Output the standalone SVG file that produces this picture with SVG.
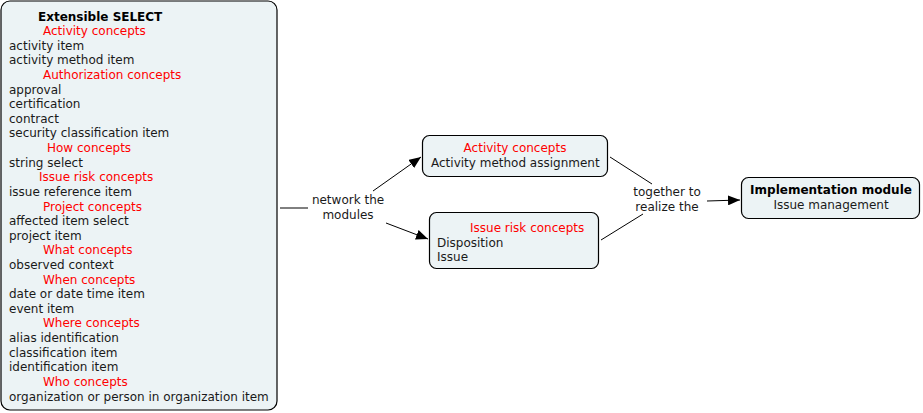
<svg xmlns="http://www.w3.org/2000/svg" width="923" height="413" viewBox="0 0 923 413">
<defs>
<style>
.box{fill:#ecf3f5;stroke:#000;stroke-width:1.2}
text{font-family:"DejaVu Sans",Verdana,sans-serif;font-size:12px;fill:#1a1a1a}
.r{fill:#ff0000}
.b{font-weight:bold;fill:#000}
.c{text-anchor:middle}
.ln{stroke:#000;stroke-width:1;fill:none}
</style>
<marker id="ah" viewBox="0 0 12 10" refX="12" refY="5" markerWidth="12" markerHeight="10" markerUnits="userSpaceOnUse" orient="auto">
<path d="M0,0 L12,5 L0,10 Z" fill="#000"/>
</marker>
</defs>
<g id="connectors">
<line class="ln" x1="280" y1="208" x2="308" y2="208"/>
<line class="ln" x1="373" y1="191" x2="421" y2="157" marker-end="url(#ah)"/>
<line class="ln" x1="386" y1="223" x2="428" y2="239" marker-end="url(#ah)"/>
<line class="ln" x1="610" y1="157" x2="652" y2="184"/>
<line class="ln" x1="601" y1="240" x2="643" y2="214"/>
<line class="ln" x1="707" y1="201" x2="740" y2="200" marker-end="url(#ah)"/>
<text class="c" x="348" y="204">network the</text>
<text class="c" x="348" y="219">modules</text>
<text class="c" x="667" y="196">together to</text>
<text class="c" x="667" y="211">realize the</text>
</g>
<g id="extensible-select">
<rect class="box" x="1" y="1" width="276" height="409" rx="9"/>
<text class="b" x="38" y="20.5">Extensible SELECT</text>
<text class="r" x="43" y="35.1">Activity concepts</text>
<text x="9" y="49.7">activity item</text>
<text x="9" y="64.3">activity method item</text>
<text class="r" x="43" y="79">Authorization concepts</text>
<text x="9" y="93.6">approval</text>
<text x="9" y="108.2">certification</text>
<text x="9" y="122.8">contract</text>
<text x="9" y="137.4">security classification item</text>
<text class="r" x="47" y="152">How concepts</text>
<text x="9" y="166.7">string select</text>
<text class="r" x="39" y="181.3">Issue risk concepts</text>
<text x="9" y="195.9">issue reference item</text>
<text class="r" x="43" y="210.5">Project concepts</text>
<text x="9" y="225.1">affected item select</text>
<text x="9" y="239.7">project item</text>
<text class="r" x="43" y="254.4">What concepts</text>
<text x="9" y="269">observed context</text>
<text class="r" x="43" y="283.6">When concepts</text>
<text x="9" y="298.2">date or date time item</text>
<text x="9" y="312.8">event item</text>
<text class="r" x="43" y="327.4">Where concepts</text>
<text x="9" y="342.1">alias identification</text>
<text x="9" y="356.7">classification item</text>
<text x="9" y="371.3">identification item</text>
<text class="r" x="43" y="385.9">Who concepts</text>
<text x="9" y="400.5">organization or person in organization item</text>
</g>
<g id="activity-concepts">
<rect class="box" x="422.5" y="135.5" width="185" height="41" rx="7"/>
<text class="r c" x="515" y="152">Activity concepts</text>
<text x="431" y="167">Activity method assignment</text>
</g>
<g id="issue-risk-concepts">
<rect class="box" x="429.5" y="212.5" width="169" height="56" rx="7"/>
<text class="r" x="470" y="232">Issue risk concepts</text>
<text x="437" y="246.5">Disposition</text>
<text x="437" y="261">Issue</text>
</g>
<g id="implementation-module">
<rect class="box" x="741.5" y="177.5" width="178" height="41" rx="7"/>
<text class="b c" x="831" y="194">Implementation module</text>
<text class="c" x="831" y="208.5">Issue management</text>
</g>
</svg>
